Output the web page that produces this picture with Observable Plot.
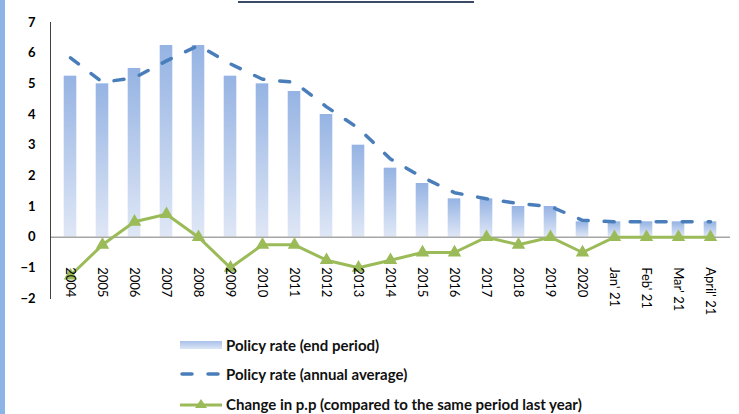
<!DOCTYPE html>
<html><head><meta charset="utf-8">
<script src="https://cdn.jsdelivr.net/npm/d3@7"></script>
<script src="https://cdn.jsdelivr.net/npm/@observablehq/plot@0.6"></script>
<style>
body{margin:0;background:#fff;font-family:Lato,"Open Sans",sans-serif;}
#wrap{position:relative;width:739px;height:414px;overflow:hidden;background:#fff}
#stripe{position:absolute;left:0;top:0;width:5px;height:414px;background:#8cb4e6}
#titleline{position:absolute;left:238px;top:1px;width:236px;height:0;border-top:2px solid #3b4a66}
#chart{position:absolute;left:0;top:0}
.leg{position:absolute;left:180px;display:flex;align-items:center;font-size:15px;font-weight:bold;color:#111;white-space:nowrap}
.leg svg{margin-right:4px}
</style></head>
<body>
<div id="wrap">
<div id="stripe"></div>
<div id="titleline"></div>
<div id="chart"></div>
<div class="leg" style="top:336px"><svg width="42" height="14"><defs><linearGradient id="lg1" x1="0" y1="0" x2="0" y2="1"><stop offset="0%" stop-color="#a9c1ea"/><stop offset="100%" stop-color="#dbe5f5"/></linearGradient></defs><rect x="0" y="3" width="42" height="8" fill="url(#lg1)"/></svg><span>Policy rate (end period)</span></div>
<div class="leg" style="top:365px"><svg width="42" height="14"><line x1="2" y1="7" x2="40" y2="7" stroke="#4a7ebb" stroke-width="3.5" stroke-dasharray="10,16" stroke-linecap="round"/></svg><span>Policy rate (annual average)</span></div>
<div class="leg" style="top:395px"><svg width="42" height="14"><line x1="0" y1="8" x2="42" y2="8" stroke="#9bbb59" stroke-width="3"/><path d="M21,2 L27,11 L15,11 Z" fill="#9bbb59"/></svg><span>Change in p.p (compared to the same period last year)</span></div>
</div>
<script>
const categories = ["2004","2005","2006","2007","2008","2009","2010","2011","2012","2013","2014","2015","2016","2017","2018","2019","2020","Jan' 21","Feb' 21","Mar' 21","April' 21"];
const endPeriod = [5.25,5.0,5.5,6.25,6.25,5.25,5.0,4.75,4.0,3.0,2.25,1.75,1.25,1.25,1.0,1.0,0.5,0.5,0.5,0.5,0.5];
const annualAvg = [5.85,5.05,5.2,5.75,6.25,5.65,5.15,5.05,4.25,3.55,2.55,1.95,1.45,1.25,1.1,1.0,0.55,0.5,0.5,0.5,0.5];
const changePP = [-1.25,-0.25,0.5,0.75,0,-1,-0.25,-0.25,-0.75,-1,-0.75,-0.5,-0.5,0,-0.25,0,-0.5,0,0,0,0];
const yTicks = [-2,-1,0,1,2,3,4,5,6,7];

const rows = categories.map((c,i)=>({c, end:endPeriod[i], avg:annualAvg[i], chg:changePP[i]}));

const chart = Plot.plot({
  width:739, height:320, marginLeft:50, marginRight:9, marginTop:22, marginBottom:22,
  style:{fontFamily:"Lato, sans-serif", background:"transparent", color:"#000"},
  x:{type:"band", domain:categories, padding:0},
  y:{domain:[-2,7]},
  marks:[
    Plot.barY(rows,{x:"c", y:"end", fill:"url(#barGrad)", insetLeft:9.7, insetRight:9.7}),
    Plot.ruleY([0],{stroke:"#a6a6a6", strokeWidth:1.5}),
    Plot.frame({anchor:"left", stroke:"#404040"}),
    Plot.axisY({ticks:yTicks, tickSize:0, tickPadding:15, fontWeight:"bold", fontSize:13, label:null}),
    Plot.axisX({ticks:[], label:null, tickSize:0}),
    Plot.line(rows,{x:"c", y:"avg", stroke:"#4a7ebb", strokeWidth:3.5, strokeDasharray:"10,16", strokeLinecap:"round"}),
    Plot.line(rows,{x:"c", y:"chg", stroke:"#9bbb59", strokeWidth:3}),
    Plot.dot(rows,{x:"c", y:"chg", symbol:"triangle", r:5, fill:"#9bbb59"}),
    Plot.text(rows,{x:"c", y:()=>0, text:"c", rotate:90, textAnchor:"start", dy:30, fontSize:13, fill:"#000"})
  ]
});
const svg = d3.select(chart);
const defs = svg.insert("defs",":first-child");
const g = defs.append("linearGradient").attr("id","barGrad").attr("x1",0).attr("y1",0).attr("x2",0).attr("y2",1);
g.append("stop").attr("offset","0%").attr("stop-color","#95b3e3");
g.append("stop").attr("offset","100%").attr("stop-color","#dfe7f6");
document.getElementById("chart").appendChild(chart);
</script>
</body></html>
